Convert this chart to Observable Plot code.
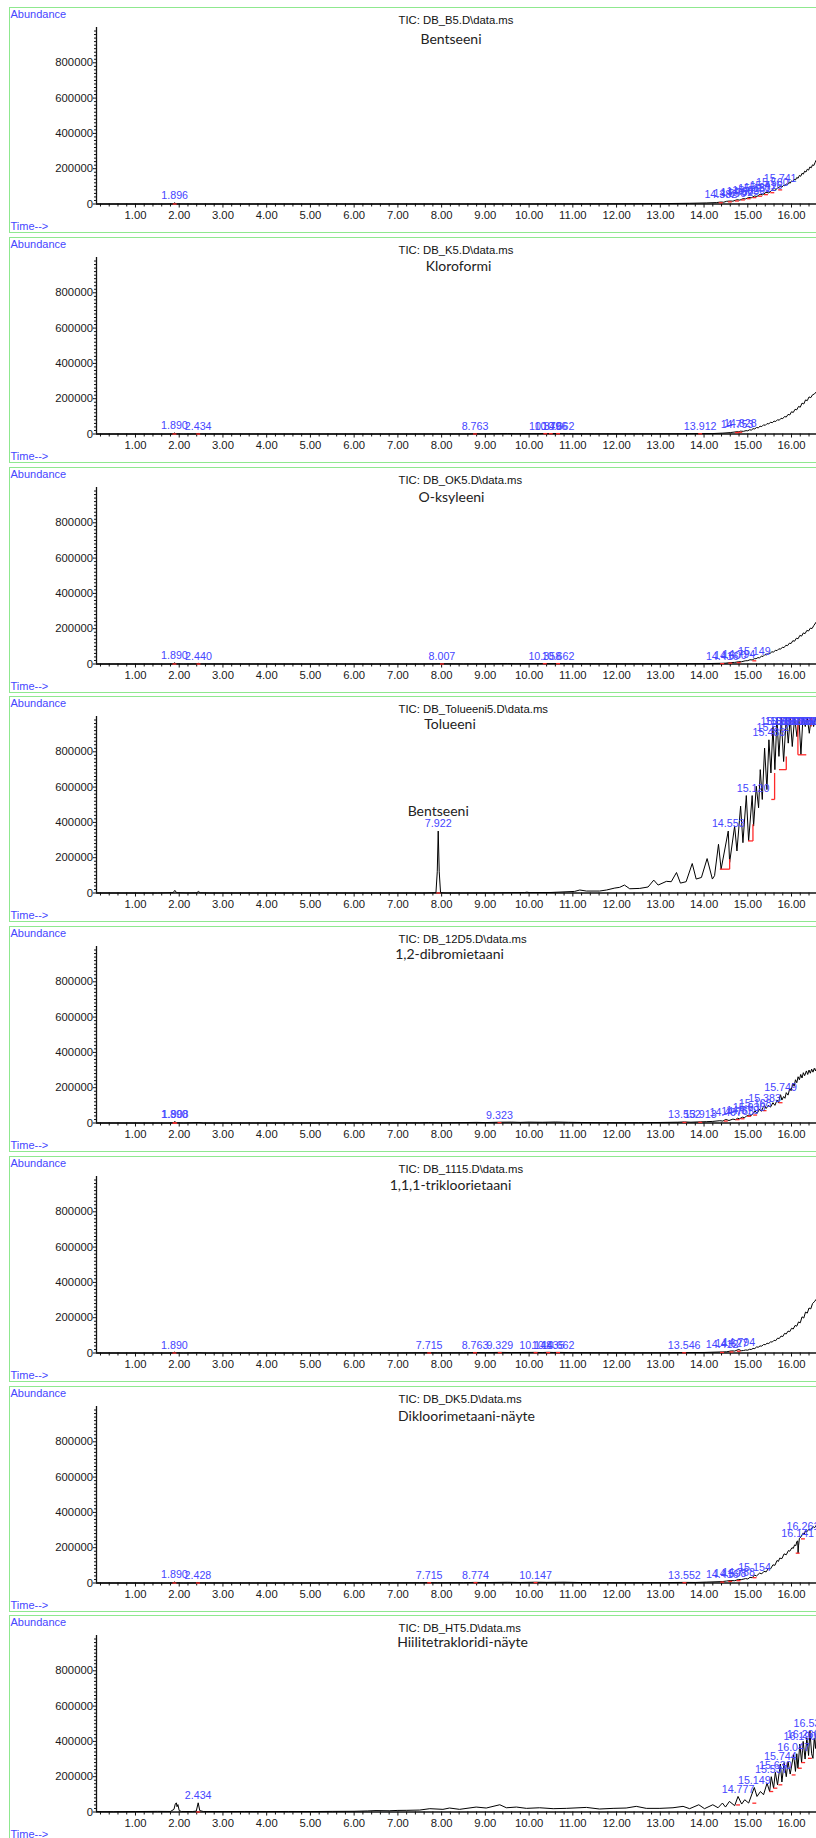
<!DOCTYPE html>
<html><head><meta charset="utf-8">
<script src="https://cdn.jsdelivr.net/npm/d3@7"></script>
<script src="https://cdn.jsdelivr.net/npm/@observablehq/plot@0.6"></script>
<style>
body{margin:0;background:#fff;}
#root{position:relative;width:816px;height:1838px;overflow:hidden;background:#fff;}
.panel{position:absolute;left:0;width:816px;}
.border{position:absolute;left:9px;width:830px;border:1px solid #8fe88f;box-sizing:border-box;pointer-events:none;}
</style></head><body><div id="root"></div>
<script>
// ---------- data ----------
const fileNames = ["TIC: DB_B5.D\\data.ms","TIC: DB_K5.D\\data.ms","TIC: DB_OK5.D\\data.ms","TIC: DB_Tolueeni5.D\\data.ms","TIC: DB_12D5.D\\data.ms","TIC: DB_1115.D\\data.ms","TIC: DB_DK5.D\\data.ms","TIC: DB_HT5.D\\data.ms"];
const sampleNames = ["Bentseeni","Kloroformi","O-ksyleeni","Tolueeni","1,2-dibromietaani","1,1,1-trikloorietaani","Dikloorimetaani-näyte","Hiilitetrakloridi-näyte"];
const xMajorTicks = [1,2,3,4,5,6,7,8,9,10,11,12,13,14,15,16];
const yMajorTicks = [0,200000,400000,600000,800000];

const traceB5 = [[0.11,0],[1.5,0],[1.86,500],[1.896,7000],[1.93,500],[2.3,0],[6,0],[10,0],[12,1000],[12.98,2000],[13.67,4000],[14.05,6000],[14.28,8000],[14.382,11000],[14.45,10000],[14.51,15000],[14.59,17000],[14.66,16000],[14.752,24000],[14.82,22000],[14.889,30000],[14.95,29000],[15.02,37000],[15.08,35000],[15.151,45000],[15.21,43000],[15.282,55000],[15.34,52000],[15.416,66000],[15.48,63000],[15.56,80000],[15.62,77000],[15.68,90000],[15.741,99000],[15.78,96000],[15.82,106000],[15.85,103000],[15.88,114000],[15.91,110000],[15.94,122000],[15.97,118000],[16.00,131000],[16.03,127000],[16.06,140000],[16.09,136000],[16.12,150000],[16.15,146000],[16.18,162000],[16.21,157000],[16.24,174000],[16.27,169000],[16.30,186000],[16.33,181000],[16.36,197000],[16.39,192000],[16.42,210000],[16.45,205000],[16.48,222000],[16.51,218000],[16.54,236000],[16.571,252000]];
const peaksB5 = [[1.896,"1.896",7000,0],[14.382,"14.382",11000,7000],[14.59,"14.590",17000,12000],[14.752,"14.752",24000,17000],[14.889,"14.889",30000,23000],[15.02,"15.020",37000,30000],[15.151,"15.151",45000,36000],[15.282,"15.282",55000,44000],[15.416,"15.416",66000,53000],[15.56,"15.560",80000,64000],[15.741,"15.741",105000,80000]];

const traceK5 = [[0.11,0],[1.8,0],[1.86,1000],[1.89,6000],[1.93,1000],[2.1,0],[2.40,500],[2.434,3000],[2.47,500],[4.0,0],[7.0,0],[8.6,500],[8.763,1500],[8.9,500],[9.5,2500],[9.7,1500],[10.2,2000],[10.37,3000],[10.496,2500],[10.662,3000],[10.9,1500],[11.5,1000],[12.5,1000],[13.5,1500],[13.912,2500],[14.2,2500],[14.43,5000],[14.6,8000],[14.753,13000],[14.8,12000],[14.828,16000],[14.9,15000],[14.96,19000],[15.0,18000],[15.04,24000],[15.08,22000],[15.12,30000],[15.16,29000],[15.20,37000],[15.24,35000],[15.28,44000],[15.32,42000],[15.36,52000],[15.40,49000],[15.44,59000],[15.48,57000],[15.52,67000],[15.56,64000],[15.60,73000],[15.64,71000],[15.68,81000],[15.72,78000],[15.76,89000],[15.80,87000],[15.84,99000],[15.88,96000],[15.92,111000],[15.96,108000],[16.00,126000],[16.04,122000],[16.08,140000],[16.12,137000],[16.16,156000],[16.20,152000],[16.24,175000],[16.28,170000],[16.32,193000],[16.36,189000],[16.40,210000],[16.44,206000],[16.48,222000],[16.52,226000],[16.571,240000]];
const peaksK5 = [[1.89,"1.890",6000,0],[2.434,"2.434",3000,0],[8.763,"8.763",1500,0],[10.37,"10.370",3000,1500],[10.496,"10.496",2500,1500],[10.662,"10.662",3000,1500],[13.912,"13.912",2500,1000],[14.753,"14.753",15000,8000],[14.828,"14.828",18000,10000]];

const traceOK5 = [[0.11,0],[1.8,0],[1.86,1000],[1.89,7000],[1.93,1000],[2.1,0],[2.40,500],[2.44,3500],[2.48,500],[4,0],[7.5,0],[8.007,1500],[8.5,500],[9.0,1000],[9.5,2500],[9.7,1500],[10.358,2500],[10.5,2000],[10.662,3000],[11,1500],[12,1000],[13,1000],[14,2000],[14.416,4000],[14.5,5000],[14.6,8000],[14.7,9000],[14.794,13000],[14.86,13000],[14.941,18000],[15.0,19000],[15.05,24000],[15.10,23000],[15.149,30000],[15.19,30000],[15.23,36000],[15.27,35000],[15.31,44000],[15.35,43000],[15.39,53000],[15.43,52000],[15.47,61000],[15.51,60000],[15.55,69000],[15.59,68000],[15.63,77000],[15.67,76000],[15.71,86000],[15.75,84000],[15.79,95000],[15.83,93000],[15.87,106000],[15.91,104000],[15.95,118000],[15.99,116000],[16.03,132000],[16.07,129000],[16.11,146000],[16.15,143000],[16.19,162000],[16.23,158000],[16.27,176000],[16.31,172000],[16.35,190000],[16.39,187000],[16.43,203000],[16.47,201000],[16.51,218000],[16.571,240000]];
const peaksOK5 = [[1.89,"1.890",7000,0],[2.44,"2.440",3500,0],[8.007,"8.007",1500,0],[10.358,"10.358",2500,1500],[10.662,"10.662",3000,1500],[14.416,"14.416",4000,2000],[14.6,"14.600",8000,5000],[14.794,"14.794",13000,8000],[15.149,"15.149",30000,18000]];

const traceTolueeni5 = [[0.11,0],[1.5,0],[1.86,2000],[1.90,15000],[1.94,2000],[2.2,0],[2.40,1000],[2.44,9000],[2.48,1000],[2.7,0],[5,0],[7.6,0],[7.87,2000],[7.90,120000],[7.922,351000],[7.945,120000],[7.975,2000],[8.1,0],[9.0,500],[9.6,2000],[9.9,2500],[9.95,5000],[10.0,2500],[10.5,3000],[11.04,9000],[11.16,17000],[11.31,11000],[11.61,11000],[11.77,17000],[11.96,28000],[12.07,32000],[12.18,45000],[12.30,24000],[12.53,26000],[12.72,34000],[12.85,73000],[12.95,45000],[13.14,66000],[13.25,64000],[13.37,116000],[13.46,56000],[13.59,64000],[13.73,167000],[13.82,79000],[13.94,88000],[14.07,195000],[14.19,79000],[14.24,98000],[14.33,276000],[14.39,135000],[14.553,351000],[14.585,173000],[14.699,379000],[14.752,238000],[14.836,492000],[14.889,285000],[14.966,552000],[15.019,295000],[15.10,552000],[15.133,379000],[15.194,605000],[15.247,483000],[15.285,699000],[15.331,530000],[15.384,821000],[15.438,586000],[15.483,868000],[15.529,680000],[15.575,943000],[15.62,699000],[15.666,990000],[15.712,774000],[15.765,995000],[15.819,745000],[15.88,995000],[15.925,849000],[15.971,995000],[16.017,830000],[16.07,995000],[16.124,886000],[16.169,995000],[16.215,783000],[16.261,995000],[16.314,943000],[16.36,995000],[16.406,905000],[16.451,995000],[16.505,943000],[16.55,995000],[16.571,960000]];
const peaksTolueeni5 = [[7.922,"7.922",351000,null],[14.553,"14.553",351000,null],[15.12,"15.120",552000,null],[15.483,"15.483",868000,null],[15.575,"15.572",900000,null],[15.666,"15.666",930000,null],[15.765,"15.765",930000,null],[15.88,"15.880",930000,null],[15.971,"15.971",930000,null],[16.07,"16.070",930000,null],[16.169,"16.169",930000,null],[16.261,"16.261",930000,null],[16.36,"16.360",930000,null],[16.451,"16.451",930000,null],[16.55,"16.550",930000,null]];
const baselinesTolueeni5 = [[7.88,0,7.97,0],[14.36,135000,14.585,135000],[14.585,135000,14.585,192000],[15.004,295000,15.118,295000],[15.118,295000,15.118,389000],[15.537,530000,15.613,530000],[15.613,530000,15.613,680000],[15.712,699000,15.88,699000],[15.88,699000,15.88,774000],[16.146,783000,16.146,990000],[16.146,783000,16.337,783000],[16.451,943000,16.451,995000]];
const annotationsTolueeni5 = [[7.922,"Bentseeni",351000]];

const trace12D5 = [[0.11,0],[1.8,0],[1.87,2000],[1.89,8000],[1.91,6000],[1.95,1000],[2.1,0],[2.45,2500],[2.55,0],[4,0],[6,500],[7.5,1000],[7.7,2500],[8,1000],[8.8,3500],[9.0,2500],[9.323,4500],[9.6,5000],[9.8,3500],[10.0,5000],[10.3,4000],[10.6,5500],[10.9,4000],[11.2,3000],[11.6,2000],[12,1500],[12.5,2000],[13.0,3000],[13.4,4500],[13.552,6000],[13.7,4500],[13.913,6500],[14.05,7500],[14.2,9000],[14.36,13000],[14.43,11000],[14.497,20000],[14.57,14000],[14.66,22000],[14.72,19000],[14.765,27000],[14.81,24000],[14.879,33000],[14.93,30000],[14.97,40000],[15.03,45000],[15.08,42000],[15.12,55000],[15.168,68000],[15.21,55000],[15.27,78000],[15.31,66000],[15.35,88000],[15.383,100000],[15.42,82000],[15.47,100000],[15.52,90000],[15.575,115000],[15.62,100000],[15.67,130000],[15.70,115000],[15.749,160000],[15.78,130000],[15.82,150000],[15.85,140000],[15.88,172000],[15.92,158000],[15.96,195000],[15.99,183000],[16.03,225000],[16.06,208000],[16.09,245000],[16.12,228000],[16.15,262000],[16.18,245000],[16.21,275000],[16.24,255000],[16.27,285000],[16.30,268000],[16.34,295000],[16.37,275000],[16.40,300000],[16.43,282000],[16.46,305000],[16.49,288000],[16.52,310000],[16.55,295000],[16.571,314000]];
const peaks12D5 = [[1.89,"1.890",8000,0],[1.908,"1.908",7000,0],[9.323,"9.323",4500,2000],[13.552,"13.552",6000,3000],[13.913,"13.913",6500,3500],[14.497,"14.497",20000,11000],[14.765,"14.765",27000,19000],[14.879,"14.879",33000,24000],[15.03,"15.030",45000,38000],[15.168,"15.168",68000,45000],[15.383,"15.383",100000,70000],[15.749,"15.749",160000,115000]];

const trace1115 = [[0.11,0],[1.8,0],[1.86,1000],[1.89,5000],[1.93,1000],[2.1,0],[2.45,1500],[2.6,0],[5,0],[7,500],[7.715,2000],[7.9,1000],[8.5,1500],[8.763,3000],[9.0,2000],[9.329,3500],[9.6,2500],[10.148,3500],[10.3,2500],[10.435,4000],[10.55,3000],[10.662,3500],[11,2000],[12,1000],[13,1500],[13.546,2500],[14.0,3000],[14.412,6000],[14.52,7000],[14.627,12000],[14.7,11000],[14.794,20000],[14.85,13000],[14.9,14000],[14.95,17000],[15.0,16000],[15.04,21000],[15.08,20000],[15.12,26000],[15.16,25000],[15.20,34000],[15.24,33000],[15.28,40000],[15.32,39000],[15.36,48000],[15.40,47000],[15.44,55000],[15.48,54000],[15.52,63000],[15.56,62000],[15.60,72000],[15.64,70000],[15.68,84000],[15.72,82000],[15.76,96000],[15.80,93000],[15.84,111000],[15.88,108000],[15.92,124000],[15.96,121000],[16.00,140000],[16.04,136000],[16.08,156000],[16.12,152000],[16.16,176000],[16.20,171000],[16.24,205000],[16.28,198000],[16.32,232000],[16.36,226000],[16.40,255000],[16.44,250000],[16.48,280000],[16.52,290000],[16.571,306000]];
const peaks1115 = [[1.89,"1.890",5000,0],[7.715,"7.715",2000,0],[8.763,"8.763",3000,1000],[9.329,"9.329",3500,1500],[10.148,"10.148",3500,1500],[10.435,"10.435",4000,2000],[10.662,"10.662",3500,2000],[13.546,"13.546",2500,1000],[14.412,"14.412",6000,3000],[14.627,"14.627",12000,6000],[14.794,"14.794",20000,10000]];

const traceDK5 = [[0.11,0],[1.8,0],[1.86,1000],[1.89,6000],[1.93,1000],[2.1,0],[2.39,500],[2.428,3500],[2.47,500],[4,0],[6,500],[7.5,1500],[7.715,2500],[7.9,1500],[8.5,2000],[8.774,3500],[9.0,2500],[9.5,4000],[9.8,3000],[10.147,4500],[10.4,3500],[10.8,4500],[11.2,2500],[12,1500],[13,2000],[13.552,3500],[13.8,3000],[14.05,5000],[14.416,8000],[14.51,11000],[14.598,14000],[14.7,13000],[14.788,20000],[14.85,19000],[14.95,25000],[15.0,23000],[15.05,32000],[15.1,30000],[15.154,45000],[15.2,40000],[15.27,56000],[15.32,52000],[15.37,66000],[15.42,63000],[15.47,82000],[15.52,80000],[15.575,103000],[15.62,100000],[15.67,128000],[15.70,122000],[15.73,141000],[15.78,138000],[15.83,165000],[15.88,160000],[15.93,184000],[15.96,180000],[16.01,200000],[16.04,196000],[16.07,216000],[16.10,212000],[16.12,235000],[16.141,238000],[16.15,169000],[16.16,210000],[16.18,253000],[16.22,262000],[16.26,282000],[16.29,276000],[16.32,295000],[16.35,290000],[16.40,305000],[16.43,300000],[16.46,312000],[16.50,318000],[16.53,314000],[16.571,329000]];
const peaksDK5 = [[1.89,"1.890",6000,0],[2.428,"2.428",3500,0],[7.715,"7.715",2500,1000],[8.774,"8.774",3500,1500],[10.147,"10.147",4500,2000],[13.552,"13.552",3500,1500],[14.416,"14.416",8000,5000],[14.598,"14.598",14000,9000],[14.788,"14.788",20000,13000],[15.154,"15.154",45000,30000],[16.141,"16.141",238000,169000],[16.261,"16.261",282000,250000]];

const traceHT5 = [[0.11,2000],[0.5,1500],[1.0,2500],[1.5,3500],[1.8,3000],[1.88,15000],[1.91,45000],[1.935,52000],[1.95,30000],[1.97,42000],[2.0,8000],[2.05,3000],[2.3,2500],[2.39,5000],[2.434,52000],[2.47,8000],[2.55,3000],[3.0,2500],[3.5,3000],[4.0,2500],[4.5,3000],[5.0,2500],[5.5,3500],[6.0,4000],[6.3,6000],[6.5,8000],[6.8,7000],[7.0,9000],[7.19,9400],[7.5,11000],[7.73,18800],[8.03,15000],[8.18,22500],[8.41,15000],[8.79,28000],[9.02,22500],[9.33,41000],[9.48,24000],[9.71,28000],[9.94,20600],[10.24,24000],[10.55,18800],[10.85,20600],[11.31,26000],[11.61,17000],[11.92,20600],[12.22,22500],[12.45,32000],[12.68,20600],[12.99,20600],[13.29,24000],[13.52,32000],[13.67,18800],[13.88,41000],[14.01,18800],[14.20,41000],[14.32,24000],[14.42,50700],[14.49,28000],[14.58,60000],[14.70,35700],[14.777,88000],[14.86,45000],[14.93,69500],[15.02,50700],[15.149,139000],[15.21,88000],[15.29,116000],[15.36,97700],[15.44,163000],[15.50,116000],[15.537,200000],[15.59,135000],[15.63,225000],[15.68,154000],[15.744,272000],[15.78,170000],[15.83,280000],[15.88,200000],[15.92,285000],[15.97,215000],[16.047,325000],[16.09,230000],[16.12,330000],[16.146,248000],[16.19,385000],[16.23,280000],[16.266,400000],[16.31,300000],[16.35,420000],[16.39,320000],[16.42,460000],[16.46,330000],[16.49,304000],[16.52,420000],[16.55,360000],[16.571,473000]];
const peaksHT5 = [[2.434,"2.434",52000,0],[14.777,"14.777",88000,40000],[15.149,"15.149",139000,50000],[15.537,"15.537",200000,116000],[15.63,"15.630",225000,135000],[15.744,"15.744",272000,154000],[16.047,"16.047",325000,210000],[16.19,"16.190",385000,248000],[16.266,"16.266",400000,280000],[16.42,"16.532",460000,304000]];

// ---------- layout (not data) ----------
const X_DOMAIN = [0.109, 16.571];
const Y_DOMAIN = [0, 1000000];
const PITCH = 1838 / 8;
const subtitlePos = [[450.5,39],[458,36.3],[451,37.5],[449.5,35.4],[449,35],[450,36.5],[466,36.7],[462,34.5]];

const traces = [traceB5, traceK5, traceOK5, traceTolueeni5, trace12D5, trace1115, traceDK5, traceHT5];
const peaks = [peaksB5, peaksK5, peaksOK5, peaksTolueeni5, peaks12D5, peaks1115, peaksDK5, peaksHT5];

const xMinorTicks = d3.range(1, 83).map(i => +(i * 0.2).toFixed(1)).filter(t => Math.abs(t - Math.round(t)) > 1e-6 && t < X_DOMAIN[1]);
const yMinorTicks = d3.range(1, 50).map(i => i * 20000).filter(v => v % 200000 !== 0);

const BLUE = "#4646ff";
const AXIS = "#111";
const FONT = "'Liberation Sans', Arial, sans-serif";

const root = document.getElementById("root");

for (let i = 0; i < 8; i++) {
  const y0 = i * PITCH;
  const redTicks = peaks[i].filter(p => p[3] !== null).map(p => [p[0] - 0.045, p[3], p[0] + 0.045, p[3]]);
  const redSegs = i === 3 ? baselinesTolueeni5 : redTicks;
  const marks = [
    Plot.ruleX([X_DOMAIN[0]], {stroke: AXIS, strokeWidth: 1.3}),
    Plot.ruleY([0], {stroke: AXIS, strokeWidth: 1.3}),
    Plot.axisX(xMajorTicks, {tickSize: 4, tickPadding: 3, tickFormat: d => d.toFixed(2), fontSize: 11.3, fill: "#1a1a1a", stroke: AXIS, label: null}),
    Plot.ruleX(xMinorTicks, {y1: 0, y2: 0, insetBottom: -3, stroke: AXIS}),
    Plot.axisY(yMajorTicks, {tickSize: 3, tickPadding: 0.5, tickFormat: d => String(d), fontSize: 11.3, fill: "#1a1a1a", stroke: AXIS, label: null}),
    Plot.ruleY(yMinorTicks, {x1: X_DOMAIN[0], x2: X_DOMAIN[0], insetLeft: -2, stroke: AXIS}),
    Plot.line(traces[i], {x: d => d[0], y: d => d[1], stroke: "#000", strokeWidth: 1}),
    Plot.link(redSegs, {x1: d => d[0], y1: d => d[1], x2: d => d[2], y2: d => d[3], stroke: "#ff2a2a", strokeWidth: 1.3}),
    Plot.text(peaks[i], {x: d => d[0], y: d => d[2], text: d => d[1], dy: -7, fill: BLUE, fontSize: 10.7, lineAnchor: "middle"}),
    Plot.text(["Abundance"], {frameAnchor: "top-left", dx: -86, dy: -13, text: d => d, textAnchor: "start", lineAnchor: "middle", fill: BLUE, fontSize: 11}),
    Plot.text(["Time-->"], {frameAnchor: "bottom-left", dx: -86, dy: 22.5, text: d => d, textAnchor: "start", lineAnchor: "middle", fill: BLUE, fontSize: 11}),
    Plot.text([fileNames[i]], {frameAnchor: "top-left", dx: 398 - 96, dy: 20.3 - 27, text: d => d, textAnchor: "start", lineAnchor: "middle", fill: "#111", fontSize: 11.3}),
    Plot.text([sampleNames[i]], {frameAnchor: "top-left", dx: subtitlePos[i][0] - 96, dy: subtitlePos[i][1] - 27, text: d => d, textAnchor: "middle", lineAnchor: "middle", fill: "#222", fontSize: 14, fontFamily: "Lato, 'Open Sans', sans-serif"})
  ];
  if (i === 3) {
    marks.push(Plot.text(annotationsTolueeni5, {x: d => d[0], y: d => d[2], text: d => d[1], dy: -20, fill: "#222", fontSize: 14, fontFamily: "Lato, 'Open Sans', sans-serif", lineAnchor: "middle"}));
  }
  const svg = Plot.plot({
    width: 816, height: 230,
    marginLeft: 96, marginRight: 0, marginTop: 27, marginBottom: 26.5,
    x: {domain: X_DOMAIN},
    y: {domain: Y_DOMAIN},
    style: {fontFamily: FONT, fontSize: "11.3px", color: "#111", background: "transparent", overflow: "visible"},
    marks
  });
  const wrap = document.createElement("div");
  wrap.className = "panel";
  wrap.style.top = y0 + "px";
  wrap.appendChild(svg);
  root.appendChild(wrap);
  const b = document.createElement("div");
  b.className = "border";
  b.style.top = (y0 + 7) + "px";
  b.style.height = "226px";
  root.appendChild(b);
}
</script></body></html>
